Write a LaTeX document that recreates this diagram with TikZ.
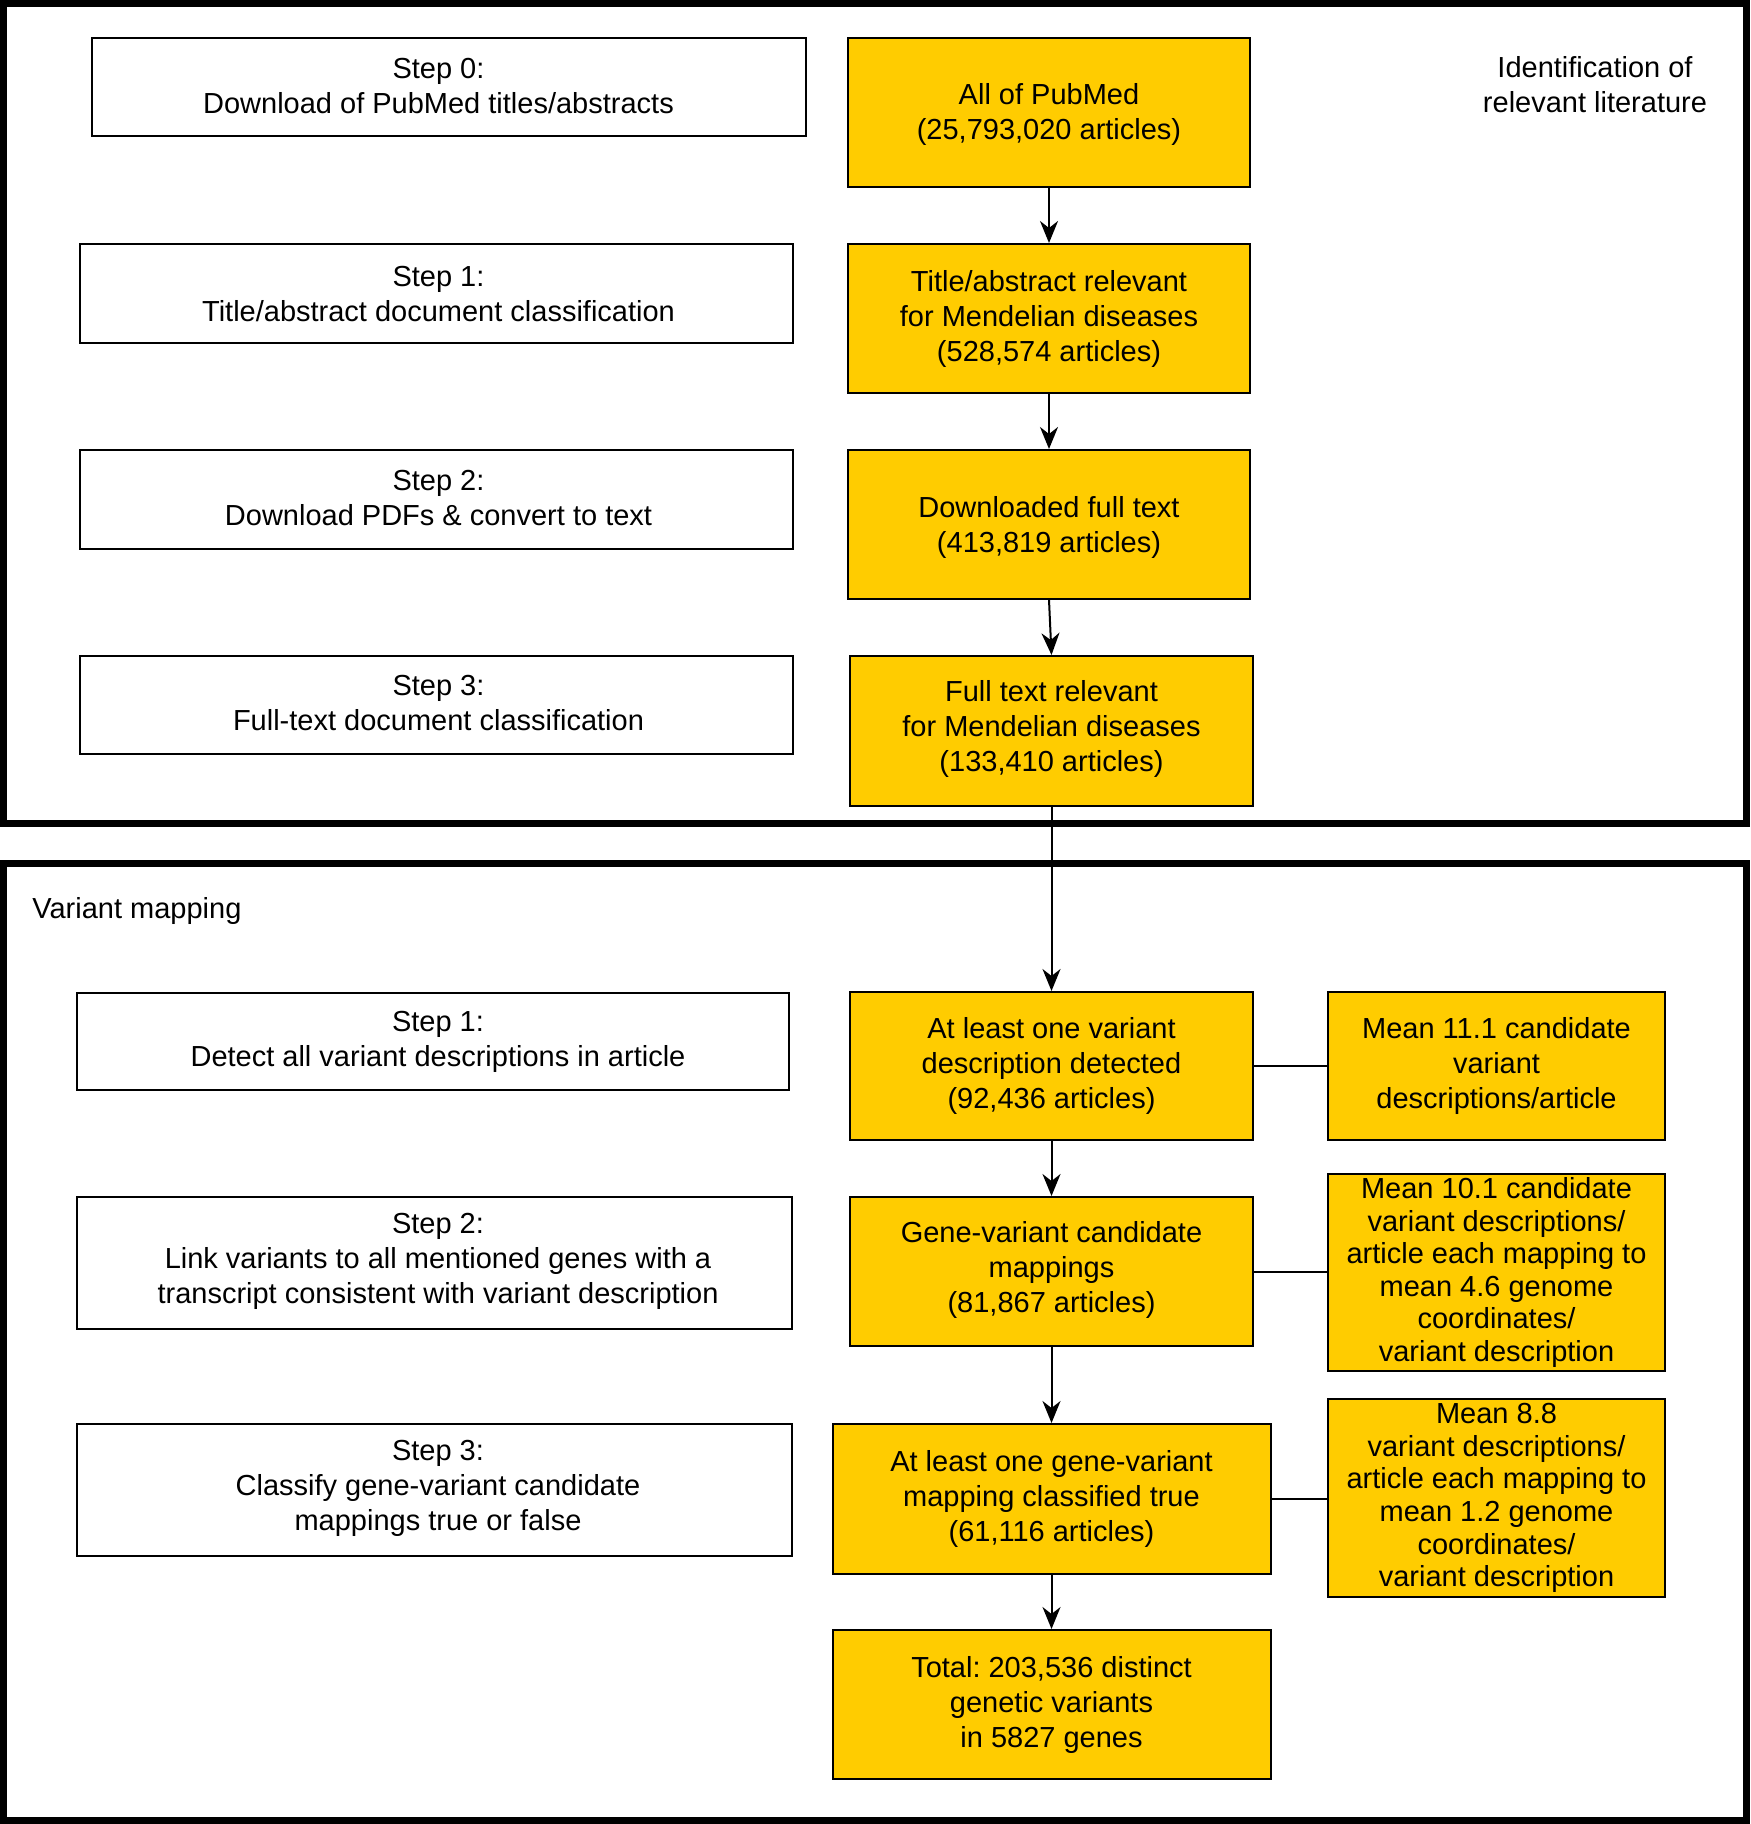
\documentclass[tikz,border=0pt]{standalone}
\usepackage{fontspec}
\setmainfont{Liberation Sans}
\usetikzlibrary{arrows.meta}
\definecolor{gold}{HTML}{FFCC00}
\newcommand\tmove[3]{\hspace*{#1}\raisebox{#2}[\height][\depth]{\begin{tabular}{@{}c@{}}#3\end{tabular}}}
\begin{document}
\frenchspacing
\begin{tikzpicture}[x=0.5pt,y=-0.5pt,
  every node/.style={font=\fontsize{14.5}{17.5}\selectfont, align=center, inner sep=0pt},
  wbox/.style={draw=black, line width=1pt, fill=white},
  ybox/.style={draw=black, line width=1pt, fill=gold},
  sbox/.style={ybox, font=\fontsize{14.5}{16.3}\selectfont},
  frame/.style={draw=black, line width=3.5pt},
  conn/.style={draw=black, line width=1pt, -{Stealth[length=11pt,width=9pt,inset=3.5pt]}},
  link/.style={draw=black, line width=1pt}
]
\useasboundingbox (0,0) rectangle (1750,1824);
\fill[white] (0,0) rectangle (1750,1824);
% frames
\draw[frame] (3.5,3.5) rectangle (1746.5,823);
\draw[frame] (3.5,863) rectangle (1746.5,1820);

% labels
\node (lab1) at (1595,85) {Identification of\\relevant literature};
\node[anchor=base west] (lab2) at (32,918) {Variant mapping};

% left step boxes
\node[wbox, minimum width=357pt, minimum height=49pt] (s0) at (449,87) {\tmove{-10.5pt}{-1.25pt}{Step 0:\\Download of PubMed titles/abstracts}};
\node[wbox, minimum width=356.5pt, minimum height=49.5pt] (s1) at (436.5,293.5) {\tmove{2pt}{-1.75pt}{Step 1:\\Title/abstract document classification}};
\node[wbox, minimum width=356.5pt, minimum height=49.5pt] (s2) at (436.5,499.5) {\tmove{2pt}{-0.55pt}{Step 2:\\Download PDFs \& convert to text}};
\node[wbox, minimum width=356.5pt, minimum height=49pt] (s3) at (436.5,705) {\tmove{2pt}{-0.65pt}{Step 3:\\Full-text document classification}};
\node[wbox, minimum width=356pt, minimum height=48.5pt] (b1) at (433,1041.5) {\tmove{5pt}{0pt}{Step 1:\\Detect all variant descriptions in article}};
\node[wbox, minimum width=357.5pt, minimum height=66pt] (b2) at (434.5,1263) {\tmove{3.5pt}{0.6pt}{Step 2:\\Link variants to all mentioned genes with a\\transcript consistent with variant description}};
\node[wbox, minimum width=357.5pt, minimum height=66pt] (b3) at (434.5,1490) {\tmove{3.5pt}{0.6pt}{Step 3:\\Classify gene-variant candidate\\mappings true or false}};

% yellow main boxes
\node[ybox, minimum width=201pt, minimum height=74.5pt] (y0) at (1049,112.5) {\tmove{0pt}{-1.2pt}{All of PubMed\\(25,793,020 articles)}};
\node[ybox, minimum width=201pt, minimum height=74.5pt] (y1) at (1049,318.5) {Title/abstract relevant\\for Mendelian diseases\\(528,574 articles)};
\node[ybox, minimum width=201pt, minimum height=74.5pt] (y2) at (1049,524.5) {\tmove{0pt}{-1.7pt}{Downloaded full text\\(413,819 articles)}};
\node[ybox, minimum width=201.5pt, minimum height=75pt] (y3) at (1051.5,731) {\tmove{0pt}{0.6pt}{Full text relevant\\for Mendelian diseases\\(133,410 articles)}};
\node[ybox, minimum width=201.5pt, minimum height=74pt] (v1) at (1051.5,1066) {At least one variant\\description detected\\(92,436 articles)};
\node[ybox, minimum width=201.5pt, minimum height=74.5pt] (v2) at (1051.5,1271.5) {\tmove{0pt}{0.6pt}{Gene-variant candidate\\mappings\\(81,867 articles)}};
\node[ybox, minimum width=219pt, minimum height=75pt] (v3) at (1051.5,1499) {At least one gene-variant\\mapping classified true\\(61,116 articles)};
\node[ybox, minimum width=219pt, minimum height=74.5pt] (v4) at (1051.5,1704.5) {\tmove{0pt}{-0.6pt}{Total: 203,536 distinct\\genetic variants\\in 5827 genes}};

% side boxes
\node[ybox, minimum width=168.5pt, minimum height=74pt] (t1) at (1496.5,1066) {Mean 11.1 candidate\\variant\\descriptions/article};
\node[sbox, minimum width=168.5pt, minimum height=98.5pt] (t2) at (1496.5,1272.5) {Mean 10.1 candidate\\variant descriptions/\\article each mapping to\\mean 4.6 genome\\coordinates/\\variant description};
\node[sbox, minimum width=168.5pt, minimum height=99pt] (t3) at (1496.5,1498) {Mean 8.8\\variant descriptions/\\article each mapping to\\mean 1.2 genome\\coordinates/\\variant description};

% connectors
\draw[conn] (y0.south) -- (y1.north);
\draw[conn] (y1.south) -- (y2.north);
\draw[conn] (y2.south) -- (y3.north);
\draw[conn] (y3.south) -- (v1.north);
\draw[conn] (v1.south) -- (v2.north);
\draw[conn] (v2.south) -- (v3.north);
\draw[conn] (v3.south) -- (v4.north);
\draw[link] (v1.east) -- (t1.west);
\draw[link] (v2.east) -- (v2.east -| t2.west);
\draw[link] (v3.east) -- (v3.east -| t3.west);
\end{tikzpicture}
\end{document}
